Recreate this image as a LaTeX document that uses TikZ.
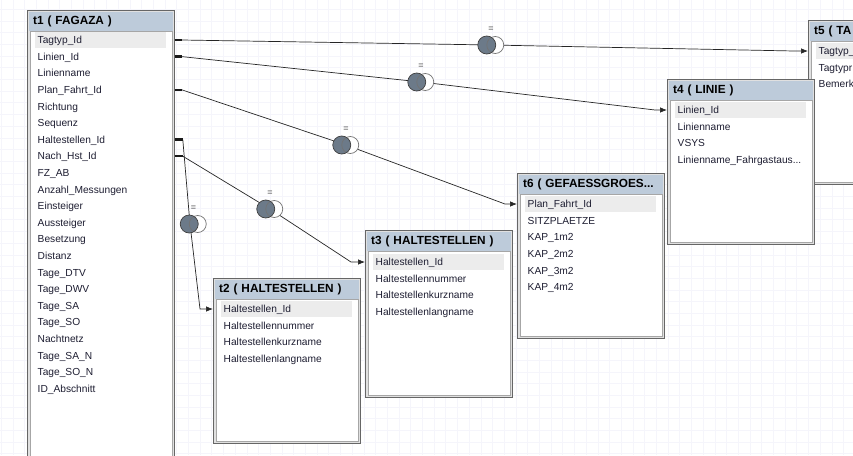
\documentclass[tikz,border=0pt]{standalone}
\usepackage{fontspec}
\setmainfont{Liberation Sans}
\usetikzlibrary{calc, arrows.meta}
\definecolor{headblue}{RGB}{189,203,218}
\definecolor{keygray}{RGB}{236,236,236}
\definecolor{joinfill}{RGB}{108,122,137}
\definecolor{gridblue}{RGB}{245,245,251}
\definecolor{fieldtext}{RGB}{30,30,50}
\newcommand{\cutoff}{...}
\tikzset{
    tab/.style      = {draw=black!60, fill=black!12, line width=0.8pt, minimum width=147, anchor=north west, inner sep=0},
    panel/.style    = {draw=black!35, fill=white, line width=0.6pt},
    head/.style     = {fill=headblue, minimum height=19, text width=135, inner xsep=4.5, inner ysep=0, anchor=north west, align=left, font=\fontsize{11.8}{13}\selectfont\bfseries},
    keyrow/.style   = {fill=keygray},
    field/.style    = {anchor=west, inner sep=0, text height=9.4pt, text depth=2pt, text=fieldtext, font=\fontsize{10.2}{12}\selectfont},
    stub/.style     = {line width=2.4pt, draw=black!90},
    link/.style     = {line width=0.7pt, draw=black!85, -{Latex[length=7pt, width=5.5pt]}},
    gridline/.style = {draw=gridblue, line width=0.8pt},
    join/.pic       = {
        \fill[white] (4.25,0) circle (8.5);
        \fill[joinfill] (-4.25,0) circle (9);
        \draw[black!55, line width=0.7pt] (4.25,0) circle (8.5);
        \draw[black!75, line width=0.7pt] (-4.25,0) circle (9);
        \node[font=\fontsize{9}{10}\selectfont, text=black!75, inner sep=0] (-eq) at (0,-15.5) {=};
    },
}

\begin{document}
\begin{tikzpicture}[x=1pt, y=-1pt]
  \path[use as bounding box, clip] (0,0) rectangle (853,455);
  \fill[white] (0,0) rectangle (853,455);
  \foreach \gx in {1.2,12.9,...,853} \draw[gridline] (\gx,0) -- (\gx,455);
  \foreach \gy in {9.2,20.9,...,455} \draw[gridline] (0,\gy) -- (853,\gy);

  % t1 ( FAGAZA )
  \node[tab, minimum height=470] (t1) at (27,10) {};
  \draw[panel] ($(t1.north west)+(3,21)$) rectangle ($(t1.south east)+(-3,-3)$);
  \node[head] (t1h) at ($(t1.north west)+(1.5,1.5)$) {t1 ( FAGAZA )};
  \fill[keyrow] ($(t1.north west)+(8,22)$) rectangle ($(t1.north east)+(-9,38)$);
  \foreach \f [count=\i] in {Tagtyp\_Id, Linien\_Id, Linienname, Plan\_Fahrt\_Id, Richtung, Sequenz, Haltestellen\_Id, Nach\_Hst\_Id, FZ\_AB, Anzahl\_Messungen, Einsteiger, Aussteiger, Besetzung, Distanz, Tage\_DTV, Tage\_DWV, Tage\_SA, Tage\_SO, Nachtnetz, Tage\_SA\_N, Tage\_SO\_N, ID\_Abschnitt}
    \node[field] (t1-\i) at ($(t1.north west)+(10.5,13.4+16.6*\i)$) {\f};

  % t5 ( TA...
  \node[tab, minimum height=164] (t5) at (808,20) {};
  \draw[panel] ($(t5.north west)+(3,21)$) rectangle ($(t5.south east)+(-3,-3)$);
  \node[head] (t5h) at ($(t5.north west)+(1.5,1.5)$) {t5 ( TA};
  \fill[keyrow] ($(t5.north west)+(8,23)$) rectangle ($(t5.north east)+(-9,39)$);
  \foreach \f [count=\i] in {Tagtyp\_, Tagtypr, Bemerk}
    \node[field] (t5-\i) at ($(t5.north west)+(10.5,14.4+16.6*\i)$) {\f};

  % t4 ( LINIE )
  \node[tab, minimum height=165] (t4) at (667,79) {};
  \draw[panel] ($(t4.north west)+(3,21)$) rectangle ($(t4.south east)+(-3,-3)$);
  \node[head] (t4h) at ($(t4.north west)+(1.5,1.5)$) {t4 ( LINIE )};
  \fill[keyrow] ($(t4.north west)+(8,23)$) rectangle ($(t4.north east)+(-9,39)$);
  \foreach \f [count=\i] in {Linien\_Id, Linienname, VSYS, Linienname\_Fahrgastaus\cutoff}
    \node[field] (t4-\i) at ($(t4.north west)+(10.5,14.4+16.6*\i)$) {\f};

  % t6 ( GEFAESSGROES... )
  \node[tab, minimum height=165] (t6) at (517,173) {};
  \draw[panel] ($(t6.north west)+(3,21)$) rectangle ($(t6.south east)+(-3,-3)$);
  \node[head] (t6h) at ($(t6.north west)+(1.5,1.5)$) {t6 ( GEFAESSGROES\cutoff};
  \fill[keyrow] ($(t6.north west)+(8,23)$) rectangle ($(t6.north east)+(-9,39)$);
  \foreach \f [count=\i] in {Plan\_Fahrt\_Id, SITZPLAETZE, KAP\_1m2, KAP\_2m2, KAP\_3m2, KAP\_4m2}
    \node[field] (t6-\i) at ($(t6.north west)+(10.5,14.4+16.6*\i)$) {\f};

  % t3 ( HALTESTELLEN )
  \node[tab, minimum height=167] (t3) at (365,230) {};
  \draw[panel] ($(t3.north west)+(3,21)$) rectangle ($(t3.south east)+(-3,-3)$);
  \node[head] (t3h) at ($(t3.north west)+(1.5,1.5)$) {t3 ( HALTESTELLEN )};
  \fill[keyrow] ($(t3.north west)+(8,24)$) rectangle ($(t3.north east)+(-9,40)$);
  \foreach \f [count=\i] in {Haltestellen\_Id, Haltestellennummer, Haltestellenkurzname, Haltestellenlangname}
    \node[field] (t3-\i) at ($(t3.north west)+(10.5,15.4+16.6*\i)$) {\f};

  % t2 ( HALTESTELLEN )
  \node[tab, minimum height=165] (t2) at (213,278) {};
  \draw[panel] ($(t2.north west)+(3,21)$) rectangle ($(t2.south east)+(-3,-3)$);
  \node[head] (t2h) at ($(t2.north west)+(1.5,1.5)$) {t2 ( HALTESTELLEN )};
  \fill[keyrow] ($(t2.north west)+(8,23)$) rectangle ($(t2.north east)+(-9,39)$);
  \foreach \f [count=\i] in {Haltestellen\_Id, Haltestellennummer, Haltestellenkurzname, Haltestellenlangname}
    \node[field] (t2-\i) at ($(t2.north west)+(10.5,14.4+16.6*\i)$) {\f};

  % joins
  \coordinate (j1) at (491,45);
  \coordinate (j2) at (421,82);
  \coordinate (j3) at (346,145);
  \coordinate (j4) at (270,209);
  \coordinate (j5) at (190,224);

  \draw[stub] (t1.east |- t1-1) -- ++(7,0) coordinate (s1);
  \draw[stub] (t1.east |- t1-2) -- ++(7,0) coordinate (s2);
  \draw[stub] (t1.east |- t1-4) -- ++(7,0) coordinate (s3);
  \draw[stub] (t1.east |- t1-8) -- ++(8,0) coordinate (s4);
  \draw[stub] (t1.east |- t1-7) -- ++(8,0) coordinate (s5);

  \draw[link] (s1) -- (j1) -- ($(t5.west |- t5-1)+(-14,0)$) -- (t5.west |- t5-1);
  \draw[link] (s2) -- (j2) -- ($(t4.west |- t4-1)+(-12,0)$) -- (t4.west |- t4-1);
  \draw[link] (s3) -- (j3) -- ($(t6.west |- t6-1)+(-12,0)$) -- (t6.west |- t6-1);
  \draw[link] (s4) -- (j4) -- ($(t3.west |- t3-1)+(-14,0)$) -- (t3.west |- t3-1);
  \draw[link] (s5) -- (j5) -- ($(t2.west |- t2-1)+(-13,0)$) -- (t2.west |- t2-1);

  \pic (p1) at (j1) {join};
  \pic (p2) at (j2) {join};
  \pic (p3) at (j3) {join};
  \pic (p4) at (j4) {join};
  \pic (p5) at ($(j5)+(3.5,0)$) {join};
\end{tikzpicture}
\end{document}
